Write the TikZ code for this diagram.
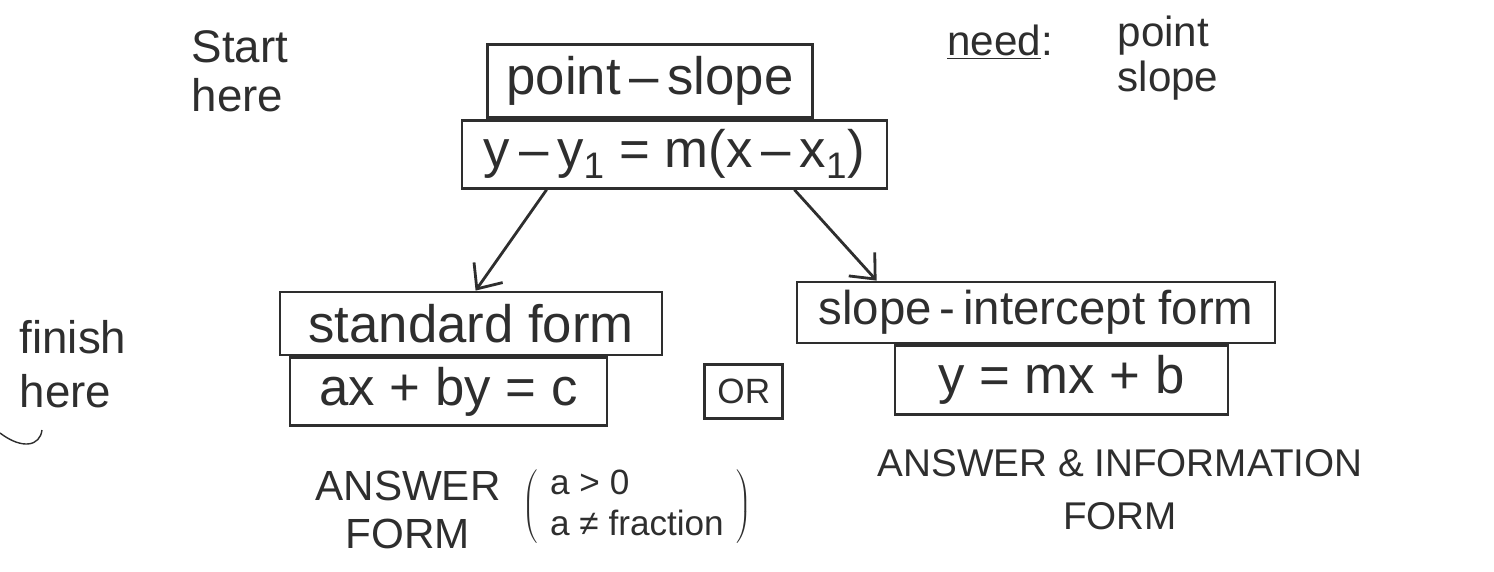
\documentclass[tikz,border=0pt]{standalone}
\usepackage{fontspec}
\setmainfont{Liberation Sans}
\usepackage{tikz}
\usetikzlibrary{arrows.meta, positioning}
\colorlet{pencil}{black!82}
\tikzstyle{formbox} = [
    rectangle,
    draw=pencil,
    line width=1.6pt,
    text=pencil,
    inner sep=0pt,
    font=\fontsize{30}{34}\selectfont,
    text centered
]
\tikzstyle{note} = [
    text=pencil,
    inner sep=0pt,
    font=\fontsize{26}{31}\selectfont
]
\tikzstyle{flowarrow} = [
    draw=pencil,
    line width=1.6pt,
    -{Straight Barb[length=4mm,width=7mm]}
]

\begin{document}
\begin{tikzpicture}
            \useasboundingbox (0,0) rectangle (29.88,-11.42);

            % top: the form to start from
            \node[formbox, minimum width=6.5cm, minimum height=1.46cm] (pointSlope) at (13.0,-1.62) {point\,–\,slope};
            \node[formbox, minimum width=8.5cm, minimum height=1.36cm] (pointSlopeEq) [below=0pt of pointSlope, xshift=0.49cm] {y\,–\,y\textsubscript{1} = m(x\,–\,x\textsubscript{1})};

            % bottom: the forms to finish with
            \node[formbox, minimum width=7.64cm, minimum height=1.26cm] (standard) at (9.42,-6.47) {standard form};
            \node[formbox, minimum width=6.34cm, minimum height=1.36cm] (standardEq) [below=0pt of standard, xshift=-0.45cm] {ax + by = c};
            \node[formbox, minimum width=1.56cm, minimum height=1.08cm, font=\fontsize{20}{24}\selectfont] (orBox) [right=1.9cm of standardEq] {OR};
            \node[formbox, minimum width=9.56cm, minimum height=1.22cm, font=\fontsize{27}{32}\selectfont] (slopeInt) at (20.72,-6.25) {slope\,-\,intercept form};
            \node[formbox, minimum width=6.66cm, minimum height=1.38cm] (slopeIntEq) [below=0pt of slopeInt, xshift=0.51cm] {y = mx + b};

            \draw[flowarrow] ([xshift=1.72cm]pointSlopeEq.south west) -- ([xshift=3.94cm]standard.north west);
            \draw[flowarrow] ([xshift=-1.88cm]pointSlopeEq.south east) -- ([xshift=1.62cm]slopeInt.north west);

            % side notes
            \node[note, align=left, font=\fontsize{26}{28}\selectfont] (startHere) at (4.8,-1.42) {Start\\here};
            \node[note, align=left] (finishHere) at (1.46,-7.28) {finish\\here};
            \node[note, font=\fontsize{24}{29}\selectfont] (need) at (20.0,-0.84) {\underline{need}:};
            \node[note, align=left, font=\fontsize{24}{26}\selectfont] (needList) at (23.36,-1.16) {point\\slope};
            \node[note, align=center, font=\fontsize{24}{27}\selectfont] (answerForm) at (8.16,-10.2) {ANSWER\\FORM};
            \node[note, font=\fontsize{20}{23}\selectfont] (conditions) at (12.74,-10.14)
                {$\left(\hspace{0.35em}\begin{tabular}{@{}l@{}}a > 0\\a ≠ fraction\end{tabular}\hspace{0.35em}\right)$};
            \node[note, align=center, font=\fontsize{22}{30}\selectfont] (answerInfo) at (22.4,-9.8) {ANSWER \& INFORMATION\\FORM};

            % stray pencil mark
            \draw[pencil, line width=0.8pt] (0,-8.66) .. controls (0.45,-9.0) and (0.8,-8.92) .. (0.84,-8.6);
        \end{tikzpicture}
\end{document}
